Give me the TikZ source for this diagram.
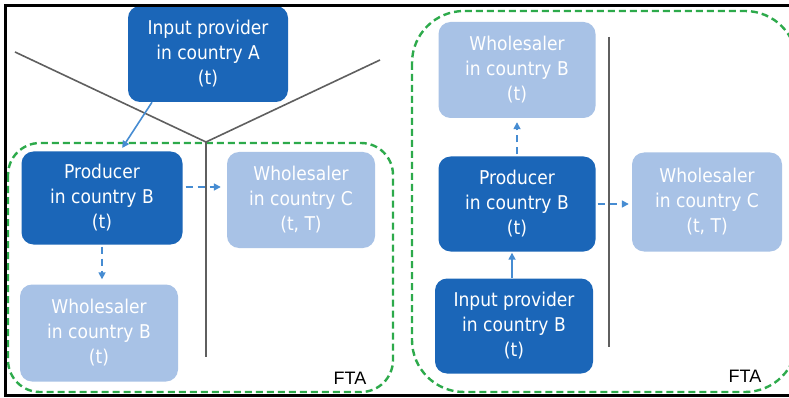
\documentclass[tikz,border=0pt]{standalone}
\usepackage{fontspec}
\setmainfont{DejaVu Sans Condensed}
\newfontfamily\ftafont{Liberation Sans}
\usetikzlibrary{arrows.meta}

\definecolor{darkbox}{RGB}{27,102,184}
\definecolor{lightbox}{RGB}{168,194,230}
\definecolor{flowblue}{RGB}{70,140,210}
\definecolor{ftagreen}{RGB}{45,170,75}
\definecolor{border}{RGB}{95,95,95}

\begin{document}
\begin{tikzpicture}[x=1pt,y=-1pt,
    firm/.style={rounded corners=12pt,align=center,text=white,
        font=\fontsize{19}{25}\selectfont,inner sep=0pt},
    dark/.style={firm,fill=darkbox},
    light/.style={firm,fill=lightbox},
    flow/.style={-{Triangle[length=7pt,width=7pt]},flowblue,line width=1.6pt},
    dflow/.style={flow,dash pattern=on 7pt off 5pt},
    fta/.style={ftagreen,line width=2.4pt,dash pattern=on 7pt off 4pt},
    frontier/.style={border,line width=1.6pt}]
    \useasboundingbox (0,0) rectangle (789,398);
    \fill[white] (0,0) rectangle (789,398);

    % free trade areas
    \draw[fta,rounded corners=32pt] (8,143) rectangle (393,392);
    \draw[fta,rounded corners=52pt] (412,11) rectangle (797,392);
    \node[font=\ftafont\fontsize{18}{20}\selectfont] (ftaL) at (350,378) {FTA};
    \node[font=\ftafont\fontsize{18}{20}\selectfont] (ftaR) at (745,376) {FTA};

    % borders between countries
    \coordinate (yL) at (15,52);
    \coordinate (yR) at (380,60);
    \coordinate (yM) at (206,142);
    \coordinate (yB) at (206,357);
    \draw[frontier] (yL) -- (yM) -- (yR);
    \draw[frontier] (yM) -- (yB);
    \coordinate (vT) at (609,37);
    \coordinate (vB) at (609,347);
    \draw[frontier] (vT) -- (vB);

    % left case
    \node[dark,minimum width=160pt,minimum height=96pt] (inA) at (208,54)
        {Input provider\\in country A\\(t)};
    \node[dark,minimum width=161pt,minimum height=93pt] (prodL) at (102,198)
        {Producer\\in country B\\(t)};
    \node[light,minimum width=148pt,minimum height=96pt] (whCL) at (301,200)
        {Wholesaler\\in country C\\(t, T)};
    \node[light,minimum width=158pt,minimum height=97pt] (whBL) at (99,333)
        {Wholesaler\\in country B\\(t)};
    \draw[flow,shorten >=4pt] ([xshift=-56pt]inA.south) -- ([xshift=18pt]prodL.north);
    \draw[dflow,shorten <=3pt,shorten >=6pt] ([yshift=11pt]prodL.east) -- ([yshift=13pt]whCL.west);
    \draw[dflow,shorten <=2pt,shorten >=5pt] (prodL.south) -- (prodL.south |- whBL.north);

    % right case
    \node[light,minimum width=157pt,minimum height=96pt] (whBR) at (517,70)
        {Wholesaler\\in country B\\(t)};
    \node[dark,minimum width=157pt,minimum height=95pt] (prodR) at (517,204)
        {Producer\\in country B\\(t)};
    \node[dark,minimum width=158pt,minimum height=95pt] (inB) at (514,326)
        {Input provider\\in country B\\(t)};
    \node[light,minimum width=150pt,minimum height=99pt] (whCR) at (707,202)
        {Wholesaler\\in country C\\(t, T)};
    \draw[dflow,shorten <=2pt,shorten >=4pt] (prodR.north) -- (prodR.north |- whBR.south);
    \draw[flow,shorten >=1pt] ([xshift=-2pt]inB.north) -- ([xshift=-2pt]inB.north |- prodR.south);
    \draw[dflow,shorten <=2pt,shorten >=3pt] (prodR.east) -- (prodR.east -| whCR.west);

    % frame
    \draw[line width=3pt] (789,5.5) -- (5.5,5.5) -- (5.5,395.5) -- (789,395.5);
\end{tikzpicture}
\end{document}
